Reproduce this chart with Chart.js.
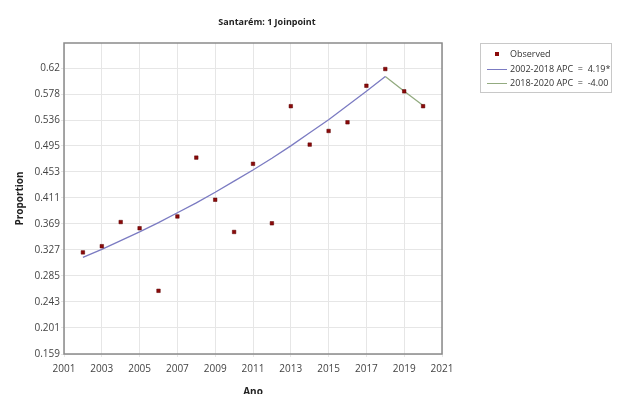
<!DOCTYPE html>
<html>
<head>
<meta charset="utf-8">
<script src="https://cdn.jsdelivr.net/npm/chart.js@4.4.1/dist/chart.umd.min.js"></script>
<style>
    html, body { margin: 0; padding: 0; background: #fff; }
    #wrap { position: relative; width: 617px; height: 394px; overflow: hidden; }
    #legend {
        position: absolute; left: 480px; top: 43px; width: 132px; height: 50px;
        border: 1px solid #c8c8c8; box-sizing: border-box;
        font: 9px "Open Sans", sans-serif; color: #333;
    }
    #legend .row { position: absolute; left: 0; white-space: pre; }
    #legend .sw { position: absolute; }
</style>
</head>
<body>
<div id="wrap">
    <canvas id="chart" width="617" height="394"></canvas>
    <div id="legend">
        <div class="row" style="top:3px"><span class="sw" style="left:14px;top:5px;width:4px;height:4px;background:#8b0a0a"></span><span style="position:absolute;left:29px">Observed</span></div>
        <div class="row" style="top:18px"><span class="sw" style="left:6px;top:7px;width:20px;height:1px;background:#7b7bc2"></span><span style="position:absolute;left:29px">2002-2018 APC  =  4.19*</span></div>
        <div class="row" style="top:32px"><span class="sw" style="left:6px;top:7px;width:20px;height:1px;background:#93ab80"></span><span style="position:absolute;left:29px">2018-2020 APC  =  -4.00</span></div>
    </div>
</div>
<script>
// Dados observados
const years = [2002, 2003, 2004, 2005, 2006, 2007, 2008, 2009, 2010, 2011, 2012, 2013, 2014, 2015, 2016, 2017, 2018, 2019, 2020];
const observed = [0.323, 0.333, 0.372, 0.362, 0.261, 0.381, 0.476, 0.408, 0.356, 0.466, 0.370, 0.559, 0.497, 0.519, 0.533, 0.592, 0.619, 0.583, 0.559];

// Segmentos do modelo joinpoint
const fit1Years = [2002, 2003, 2004, 2005, 2006, 2007, 2008, 2009, 2010, 2011, 2012, 2013, 2014, 2015, 2016, 2017, 2018];
const fit1Values = [0.315, 0.328, 0.342, 0.356, 0.371, 0.387, 0.403, 0.420, 0.438, 0.456, 0.475, 0.495, 0.516, 0.537, 0.560, 0.583, 0.607];
const fit2Years = [2018, 2019, 2020];
const fit2Values = [0.607, 0.583, 0.560];

// Rótulos dos eixos
const yTicks = [0.159, 0.201, 0.243, 0.285, 0.327, 0.369, 0.411, 0.453, 0.495, 0.536, 0.578, 0.62];
const xTicks = [2001, 2003, 2005, 2007, 2009, 2011, 2013, 2015, 2017, 2019, 2021];

const FONT = '"Open Sans", sans-serif';

function toPoints(xs, ys) {
    return xs.map((x, i) => ({ x: x, y: ys[i] }));
}

/**
 * Moldura e título do gráfico
 */
const framePlugin = {
    id: 'frame',
    afterDatasetsDraw(chart) {
        const a = chart.chartArea;
        const ctx = chart.ctx;
        ctx.save();
        ctx.strokeStyle = '#8a8a8a';
        ctx.lineWidth = 1.5;
        ctx.strokeRect(a.left, a.top, a.right - a.left, a.bottom - a.top);
        ctx.restore();
    },
    afterDraw(chart) {
        const ctx = chart.ctx;
        ctx.save();
        ctx.font = 'bold 9px ' + FONT;
        ctx.fillStyle = '#222';
        ctx.textAlign = 'center';
        ctx.textBaseline = 'middle';
        ctx.fillText('Santarém: 1 Joinpoint', 267, 22);
        ctx.restore();
    }
};

new Chart(document.getElementById('chart').getContext('2d'), {
    type: 'scatter',
    data: {
        datasets: [
            {
                label: 'Observed',
                data: toPoints(years, observed),
                pointStyle: 'rect',
                pointRadius: 2.5,
                backgroundColor: '#8b0a0a',
                borderColor: '#5a0000',
                borderWidth: 0.5,
                order: 0
            },
            {
                label: '2002-2018 APC = 4.19*',
                data: toPoints(fit1Years, fit1Values),
                showLine: true,
                pointRadius: 0,
                borderColor: '#7b7bc2',
                borderWidth: 1.3,
                order: 1
            },
            {
                label: '2018-2020 APC = -4.00',
                data: toPoints(fit2Years, fit2Values),
                showLine: true,
                pointRadius: 0,
                borderColor: '#93ab80',
                borderWidth: 1.3,
                order: 1
            }
        ]
    },
    options: {
        responsive: false,
        animation: false,
        layout: { padding: { left: 10, right: 175, top: 43, bottom: 0 } },
        plugins: {
            legend: { display: false },
            tooltip: { enabled: false }
        },
        scales: {
            x: {
                type: 'linear',
                min: 2001,
                max: 2021,
                afterBuildTicks: axis => { axis.ticks = xTicks.map(v => ({ value: v })); },
                afterFit: axis => { axis.height = 40; },
                ticks: {
                    font: { family: FONT, size: 10 },
                    color: '#444',
                    padding: 6,
                    maxRotation: 0,
                    callback: v => String(v)
                },
                grid: { color: '#e6e6e6', tickLength: 3, tickColor: '#e6e6e6' },
                border: { display: false },
                title: {
                    display: true,
                    text: 'Ano',
                    font: { family: FONT, size: 10, weight: 'bold' },
                    color: '#222',
                    padding: { top: 0, bottom: -4 }
                }
            },
            y: {
                type: 'linear',
                min: 0.159,
                max: 0.661,
                afterBuildTicks: axis => { axis.ticks = yTicks.map(v => ({ value: v })); },
                afterFit: axis => { axis.width = 54; },
                ticks: {
                    font: { family: FONT, size: 10 },
                    color: '#444',
                    padding: 1,
                    callback: v => String(v)
                },
                grid: { color: '#e6e6e6', tickLength: 3, tickColor: '#e6e6e6' },
                border: { display: false },
                title: {
                    display: true,
                    text: 'Proportion',
                    font: { family: FONT, size: 10, weight: 'bold' },
                    color: '#222',
                    padding: { bottom: 6 }
                }
            }
        }
    },
    plugins: [framePlugin]
});
</script>
</body>
</html>
